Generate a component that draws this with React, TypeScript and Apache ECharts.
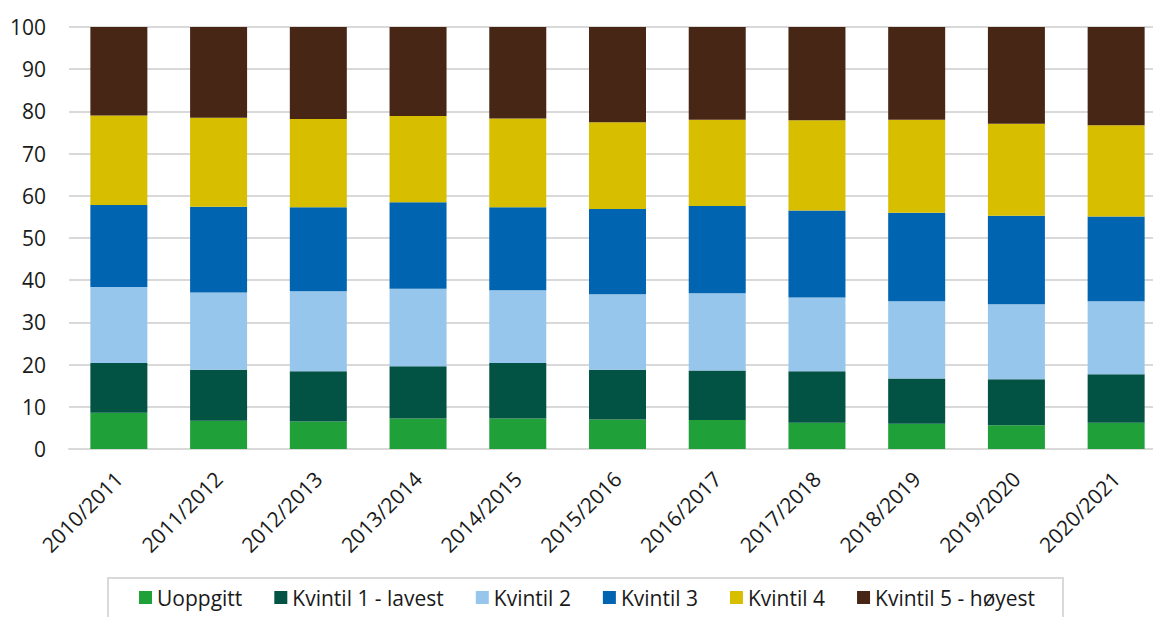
import React, { useEffect, useRef } from "react";
import * as echarts from "echarts";

const categories = [
  "2010/2011", "2011/2012", "2012/2013", "2013/2014", "2014/2015", "2015/2016",
  "2016/2017", "2017/2018", "2018/2019", "2019/2020", "2020/2021",
];
const seriesNames = ["Uoppgitt", "Kvintil 1 - lavest", "Kvintil 2", "Kvintil 3", "Kvintil 4", "Kvintil 5 - høyest"];
const uoppgitt = [8.6, 6.7, 6.5, 7.2, 7.2, 7.0, 6.9, 6.2, 6.0, 5.6, 6.2];
const kvintil1 = [11.8, 12.1, 11.9, 12.4, 13.2, 11.8, 11.7, 12.2, 10.7, 10.9, 11.5];
const kvintil2 = [18.0, 18.3, 19.0, 18.4, 17.2, 17.9, 18.3, 17.5, 18.3, 17.8, 17.3];
const kvintil3 = [19.4, 20.3, 19.9, 20.5, 19.7, 20.2, 20.7, 20.6, 21.0, 21.0, 20.1];
const kvintil4 = [21.2, 21.1, 20.9, 20.4, 21.0, 20.5, 20.4, 21.4, 22.0, 21.8, 21.6];
const kvintil5 = [21.0, 21.5, 21.8, 21.1, 21.7, 22.6, 22.0, 22.1, 22.0, 22.9, 23.3];
const seriesData = [uoppgitt, kvintil1, kvintil2, kvintil3, kvintil4, kvintil5];
const colors = ["#20a039", "#025343", "#96c6eb", "#0064b0", "#d7bf00", "#482616"];
const yTicks = { min: 0, max: 100, interval: 10 };

const FONT = "'Open Sans', 'Noto Sans', sans-serif";

export default function App() {
  const ref = useRef<HTMLDivElement>(null);
  useEffect(() => {
    if (!ref.current) return;
    const chart = echarts.init(ref.current, null, { renderer: "svg" });
    chart.setOption({
      animation: false,
      textStyle: { fontFamily: FONT },
      grid: { left: 69, right: 0, top: 27, bottom: 168, containLabel: false },
      legend: {
        left: 134,
        top: 582,
        itemWidth: 13,
        itemHeight: 13,
        itemGap: 32,
        icon: "rect",
        textStyle: { fontSize: 21, color: "#1a1a1a", fontFamily: FONT },
        data: seriesNames,
      },
      xAxis: {
        type: "category",
        data: categories,
        axisTick: { show: false },
        axisLine: { lineStyle: { color: "#d9d9d9", width: 2 } },
        axisLabel: { rotate: 45, fontSize: 21, color: "#1a1a1a", margin: 26, fontFamily: FONT },
      },
      yAxis: {
        type: "value",
        min: yTicks.min,
        max: yTicks.max,
        interval: yTicks.interval,
        axisLine: { show: false },
        axisTick: { show: false },
        splitLine: { lineStyle: { color: "#d9d9d9", width: 2 } },
        axisLabel: { fontSize: 21, color: "#1a1a1a", margin: 23, fontFamily: FONT },
      },
      graphic: [
        {
          type: "rect",
          shape: { x: 108, y: 578, width: 955, height: 60 },
          style: { fill: "none", stroke: "#d9d9d9", lineWidth: 2 },
          silent: true,
        },
      ],
      series: seriesNames.map((name, i) => ({
        name,
        type: "bar",
        stack: "total",
        barWidth: 57,
        data: seriesData[i],
        itemStyle: { color: colors[i] },
      })),
    });
    return () => chart.dispose();
  }, []);
  return (
    <div style={{ position: "absolute", left: 0, top: 0, width: 1153, height: 617, overflow: "hidden" }}>
      <div ref={ref} style={{ width: 1166, height: 617 }} />
    </div>
  );
}
